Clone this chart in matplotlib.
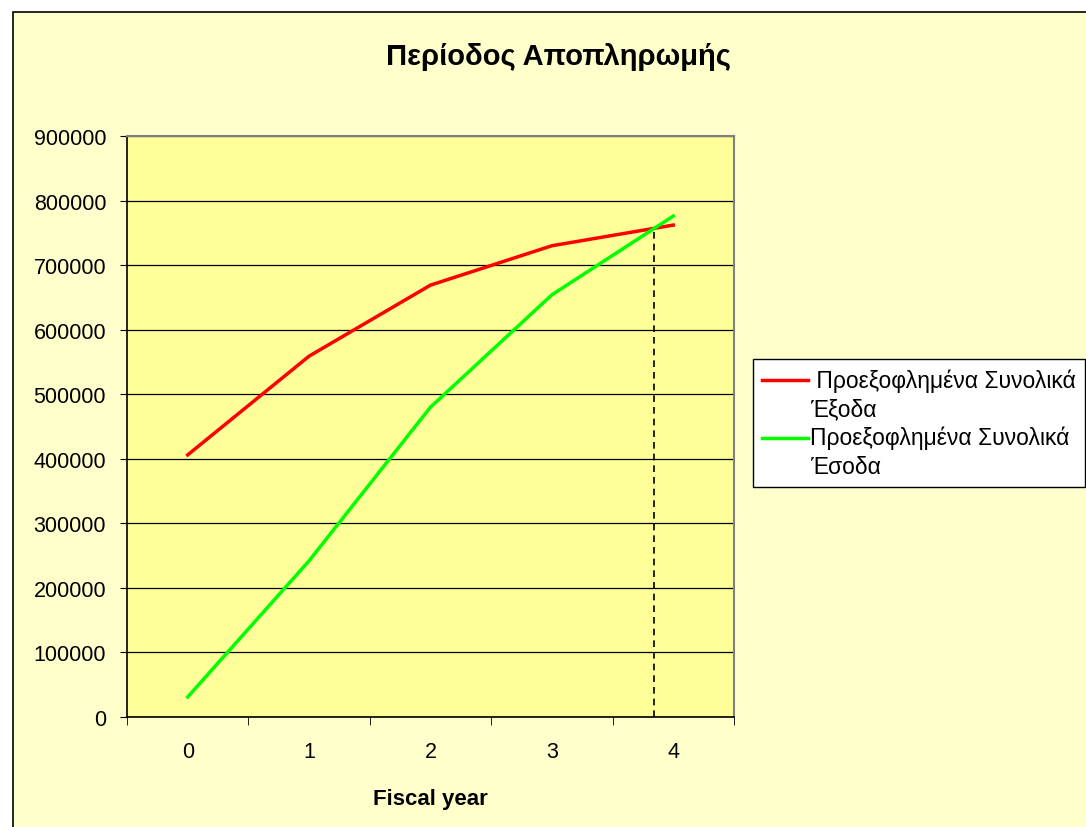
import numpy as np
import matplotlib.pyplot as plt
from matplotlib.patches import Rectangle
from matplotlib.legend_handler import HandlerLine2D

plt.rcParams['font.family'] = ['Liberation Sans', 'DejaVu Sans']

years = [0, 1, 2, 3, 4]
year_labels = ['0', '1', '2', '3', '4']
costs = [406000, 559000, 669000, 730000, 762000]     # Προεξοφλημένα Συνολικά Έξοδα
revenues = [31000, 242000, 480000, 654000, 776000]   # Προεξοφλημένα Συνολικά Έσοδα

# payback point: where the two lines cross between year 3 and 4
c = np.array(costs, dtype=float)
r = np.array(revenues, dtype=float)
d = r - c
i = np.where(np.diff(np.sign(d)) != 0)[0][0]
t = -d[i] / (d[i + 1] - d[i])
x_cross = years[i] + t
y_cross = c[i] + t * (c[i + 1] - c[i])

LINESP = 1.3


class FirstLineHandler(HandlerLine2D):
    """legend line next to the first line of a two-line label (Excel style)"""
    def create_artists(self, legend, orig_handle, xdescent, ydescent, width,
                       height, fontsize, trans):
        arts = super().create_artists(legend, orig_handle, xdescent, ydescent,
                                      width, height, fontsize, trans)
        for a in arts:
            a.set_ydata(np.asarray(a.get_ydata()) + 0.5 * LINESP * fontsize)
        return arts


fig = plt.figure(figsize=(10.86, 8.28), dpi=100, facecolor='white')
fig.patches.append(Rectangle((13 / 1086, -0.1), 1.2, 1 - 13 / 828 + 0.1,
                             transform=fig.transFigure, facecolor='#FFFFCC',
                             edgecolor='black', linewidth=1.2, zorder=-5))

ax = fig.add_axes([127 / 1086, 1 - 718 / 828, 607 / 1086, 581 / 828])
ax.set_zorder(1)
ax.set_facecolor('#FFFF99')

l1, = ax.plot(years, costs, color='#FF0000', lw=2.5, label=' Προεξοφλημένα Συνολικά\nΈξοδα', zorder=3)
l2, = ax.plot(years, revenues, color='#00FF00', lw=2.5, label='Προεξοφλημένα Συνολικά\nΈσοδα', zorder=3)
ax.plot([x_cross, x_cross], [0, y_cross], color='black', lw=1.2, ls=(0, (4, 3)), zorder=4)

ax.set_xlim(-0.5, 4.5)
ax.set_ylim(0, 900000)
ax.set_yticks(np.arange(0, 900001, 100000))
ax.set_yticklabels([str(v) for v in range(0, 900001, 100000)], fontsize=15.5)
ax.set_xticks(years)
ax.set_xticklabels(year_labels, fontsize=15.5)
ax.set_xticks(np.arange(-0.5, 4.6, 1), minor=True)
ax.tick_params(axis='x', which='major', length=0, pad=17)
ax.tick_params(axis='x', which='minor', length=6, direction='out', color='black')
ax.tick_params(axis='y', length=5, direction='out', color='black', pad=10)
ax.grid(axis='y', color='black', lw=0.9)
ax.set_axisbelow(True)

for s in ['top', 'right']:
    ax.spines[s].set_color('#808080')
    ax.spines[s].set_linewidth(1.5)
for s in ['left', 'bottom']:
    ax.spines[s].set_color('black')
    ax.spines[s].set_linewidth(1.2)

ax.set_xlabel('Fiscal year', fontsize=16, fontweight='bold', labelpad=19)
fig.text(558 / 1086, 1 - 57 / 828, 'Περίοδος Αποπληρωμής', fontsize=21,
         fontweight='bold', ha='center', va='center')

leg = fig.legend(handles=[l1, l2], loc='upper left',
                 bbox_to_anchor=(753 / 1086, 1 - 360 / 828),
                 handler_map={l1: FirstLineHandler(), l2: FirstLineHandler()},
                 fontsize=16.5, frameon=True, fancybox=False, framealpha=1,
                 edgecolor='black', facecolor='white', handlelength=2.0,
                 handletextpad=0.1, borderaxespad=0, borderpad=0.4,
                 labelspacing=0.25)
for txt in leg.get_texts():
    txt.set_linespacing(LINESP)
leg.get_frame().set_linewidth(1.0)
leg.set_zorder(5)

fig.savefig('out.png', dpi=100, facecolor=fig.get_facecolor())
